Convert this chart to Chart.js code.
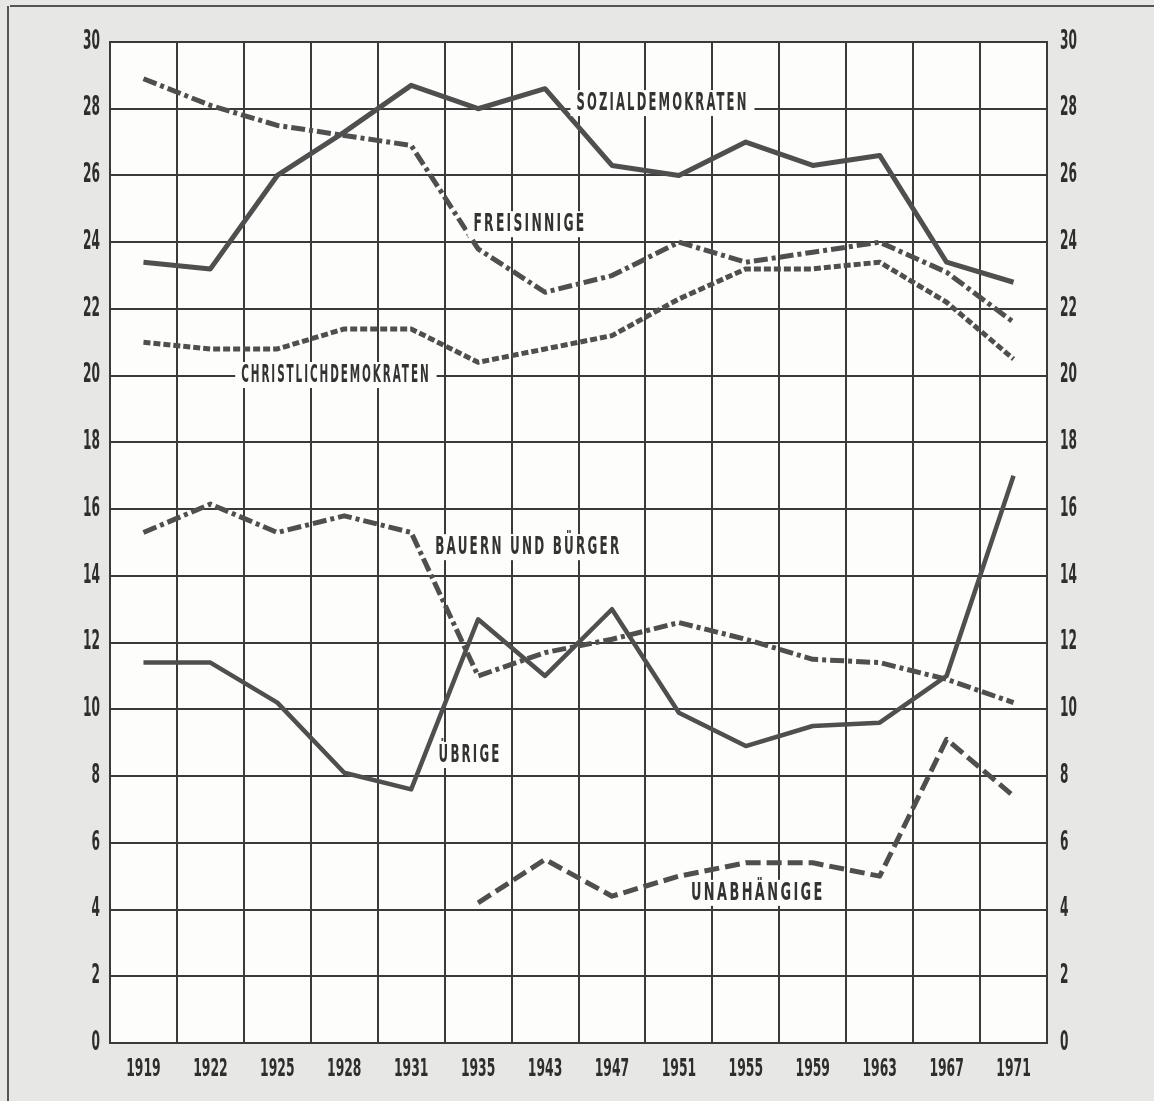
<!DOCTYPE html>
<html>
<head>
<meta charset="utf-8">
<script src="https://cdn.jsdelivr.net/npm/chart.js@4.4.0/dist/chart.umd.min.js"></script>
<style>
  html, body { margin: 0; padding: 0; background: #e7e7e5; }
  #chartBox { width: 1154px; height: 1101px; }
</style>
</head>
<body>
<div id="chartBox"><canvas id="wahlChart" width="1154" height="1101"></canvas></div>
<script>
// Stimmenanteile in Prozent, Nationalratswahlen
const years = ["1919", "1922", "1925", "1928", "1931", "1935", "1943", "1947", "1951", "1955", "1959", "1963", "1967", "1971"]
const sozialdemokraten = [23.4, 23.2, 26.0, 27.3, 28.7, 28.0, 28.6, 26.3, 26.0, 27.0, 26.3, 26.6, 23.4, 22.8]
const freisinnige = [28.9, 28.1, 27.5, 27.2, 26.9, 23.8, 22.5, 23.0, 24.0, 23.4, 23.7, 24.0, 23.1, 21.6]
const christlichdemokraten = [21.0, 20.8, 20.8, 21.4, 21.4, 20.4, 20.8, 21.2, 22.3, 23.2, 23.2, 23.4, 22.2, 20.5]
const bauernUndBuerger = [15.3, 16.15, 15.3, 15.8, 15.3, 11.0, 11.7, 12.1, 12.6, 12.1, 11.5, 11.4, 10.9, 10.2]
const uebrige = [11.4, 11.4, 10.2, 8.1, 7.6, 12.7, 11.0, 13.0, 9.9, 8.9, 9.5, 9.6, 11.0, 17.0]
const unabhaengige = [null, null, null, null, null, 4.2, 5.5, 4.4, 5.0, 5.4, 5.4, 5.0, 9.1, 7.4]

// Beschriftungen im Diagramm: Text, x in Kategorie-Einheiten (linker Rand), y-Wert (Mitte)
const seriesLabels = ["SOZIALDEMOKRATEN", "FREISINNIGE", "CHRISTLICHDEMOKRATEN", "BAUERN UND BÜRGER", "ÜBRIGE", "UNABHÄNGIGE"]
const labelIndex = [6.47, 4.93, 1.46, 4.36, 4.41, 8.18]
const labelValue = [28.17, 24.54, 20.02, 14.86, 8.63, 4.5]
const labelSpan = [2.57, 1.69, 2.83, 2.78, 0.94, 2.0]

const INK = "#4f4f4f"
const GRID = "#3a3a3a"
const TEXT = "#2e2e2e"
const NARROW = "'DejaVu Sans Condensed', 'DejaVu Sans', sans-serif"

function lineSet(label, data, width, dash) {
  return {
    label: label,
    data: data,
    borderColor: INK,
    borderWidth: width,
    borderDash: dash,
    borderCapStyle: "butt",
    borderJoinStyle: "round",
    pointRadius: 0,
    tension: 0,
    fill: false,
    spanGaps: false,
  }
}

// schmale, fette Schrift wie im Zeitungsdruck: horizontal gestaucht
function narrowText(ctx, text, x, y, align, squeeze) {
  const w = ctx.measureText(text).width * squeeze
  let left = x
  if (align === "right") left = x - w
  if (align === "center") left = x - w / 2
  ctx.save()
  ctx.translate(left, y)
  ctx.scale(squeeze, 1)
  ctx.textAlign = "left"
  ctx.fillText(text, 0, 0)
  ctx.restore()
}

const paperPlugin = {
  id: "paper",
  beforeDraw(chart) {
    const { ctx, chartArea: a } = chart
    ctx.save()
    ctx.fillStyle = "#e7e7e5"
    ctx.fillRect(0, 0, chart.width, chart.height)
    ctx.fillStyle = "#fdfdfc"
    ctx.fillRect(a.left, a.top, a.right - a.left, a.bottom - a.top)
    // Rahmen der Zeitungsseite
    ctx.strokeStyle = "#555"
    ctx.lineWidth = 2
    ctx.beginPath()
    ctx.moveTo(10, 6)
    ctx.lineTo(chart.width, 6)
    ctx.moveTo(8, 6)
    ctx.lineTo(8, chart.height)
    ctx.stroke()
    ctx.restore()
  },
  afterDatasetsDraw(chart) {
    const { ctx } = chart
    const xs = chart.scales.x
    const ys = chart.scales.y
    const step = xs.getPixelForValue(1) - xs.getPixelForValue(0)
    ctx.save()
    ctx.font = "bold 24px " + NARROW
    ctx.textBaseline = "middle"
    if ("letterSpacing" in ctx) ctx.letterSpacing = "4px"
    seriesLabels.forEach((text, i) => {
      const x = xs.getPixelForValue(0) + labelIndex[i] * step
      const y = ys.getPixelForValue(labelValue[i])
      const w = labelSpan[i] * step
      const measured = ctx.measureText(text).width
      ctx.fillStyle = "#fdfdfc"
      ctx.fillRect(x - 6, y - 13, w + 12, 26)
      ctx.fillStyle = "#333"
      narrowText(ctx, text, x, y + 1, "left", w / measured)
    })
    ctx.restore()
  },
  afterDraw(chart) {
    const { ctx, chartArea: a } = chart
    const xs = chart.scales.x
    const ys = chart.scales.y
    ctx.save()
    ctx.font = "bold 26px " + NARROW
    ctx.fillStyle = TEXT
    ctx.textBaseline = "middle"
    ys.ticks.forEach((t) => {
      const py = ys.getPixelForValue(t.value)
      narrowText(ctx, String(t.value), a.left - 10, py, "right", 0.52)
      narrowText(ctx, String(t.value), a.right + 13, py, "left", 0.52)
    })
    ctx.font = "bold 25px " + NARROW
    years.forEach((yr, i) => {
      narrowText(ctx, yr, xs.getPixelForValue(i), a.bottom + 26, "center", 0.55)
    })
    ctx.restore()
  },
}

const config = {
  type: "line",
  data: {
    labels: years,
    datasets: [
      lineSet("Sozialdemokraten", sozialdemokraten, 5, []),
      lineSet("Freisinnige", freisinnige, 5, [14, 4, 4, 4]),
      lineSet("Christlichdemokraten", christlichdemokraten, 5, [7, 3]),
      lineSet("Bauern und Bürger", bauernUndBuerger, 5, [14, 4, 4, 4]),
      lineSet("Übrige", uebrige, 4.5, []),
      lineSet("Unabhängige", unabhaengige, 5, [15, 6]),
    ],
  },
  options: {
    responsive: false,
    animation: false,
    devicePixelRatio: 1,
    layout: { padding: { top: 42, left: 0, right: 0, bottom: 0 } },
    plugins: {
      legend: { display: false },
      tooltip: { enabled: false },
    },
    scales: {
      x: {
        offset: true,
        grid: { display: true, offset: true, color: GRID, lineWidth: 2, drawTicks: false },
        border: { display: true, color: GRID, width: 2 },
        ticks: { display: false, autoSkip: false },
        afterFit: (scale) => { scale.height = 58 },
      },
      y: {
        position: "left",
        min: 0,
        max: 30,
        grid: { color: GRID, lineWidth: 2, drawTicks: false },
        border: { display: true, color: GRID, width: 2 },
        ticks: { stepSize: 2, display: false },
        afterFit: (scale) => { scale.width = 110 },
      },
      y2: {
        position: "right",
        min: 0,
        max: 30,
        grid: { drawOnChartArea: false, drawTicks: false },
        border: { display: true, color: GRID, width: 2 },
        ticks: { stepSize: 2, display: false },
        afterFit: (scale) => { scale.width = 107 },
      },
    },
  },
  plugins: [paperPlugin],
}

window.wahlChart = new Chart(document.getElementById("wahlChart"), config)
</script>
</body>
</html>
